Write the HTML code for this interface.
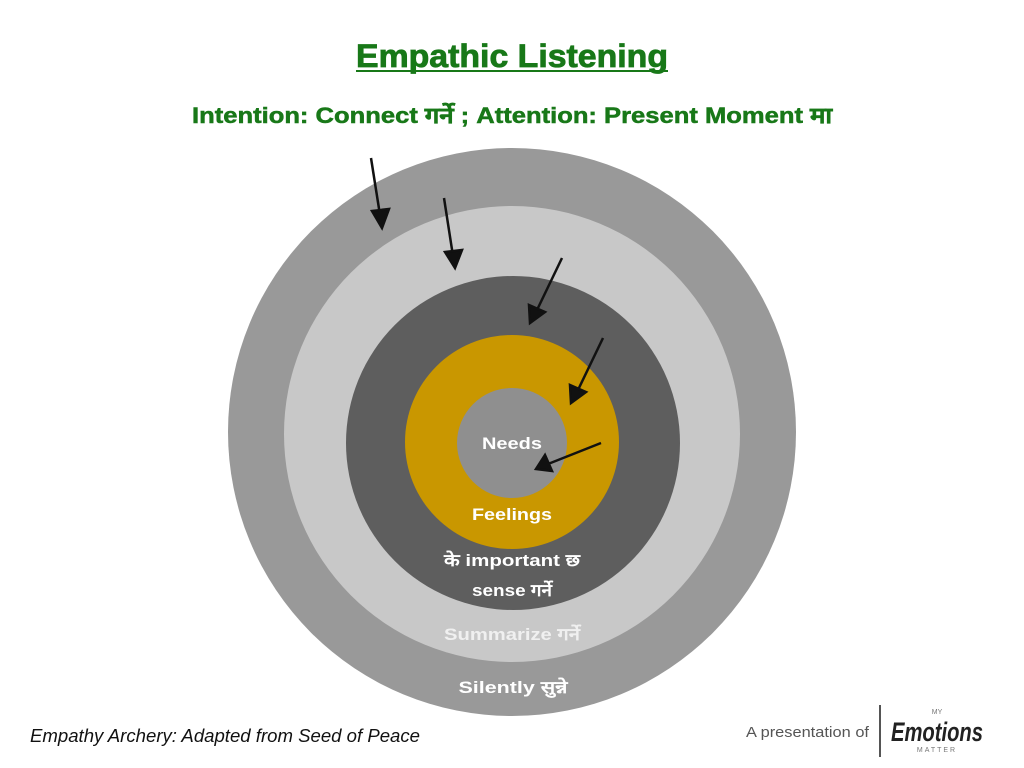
<!DOCTYPE html>
<html><head><meta charset="utf-8"><style>
html,body{margin:0;padding:0;background:#fff;width:1024px;height:768px;overflow:hidden}
svg{display:block}
text{font-family:"Liberation Sans","DejaVu Sans",sans-serif}
</style></head><body>
<svg width="1024" height="768" viewBox="0 0 1024 768" xmlns="http://www.w3.org/2000/svg">
<rect width="1024" height="768" fill="#fff"/>
<text x="512" y="67" text-anchor="middle" font-size="32" font-weight="bold" fill="#187818" stroke="#187818" stroke-width="0.8" textLength="312" lengthAdjust="spacingAndGlyphs">Empathic Listening</text>
<rect x="356" y="70" width="312" height="2" fill="#187818"/>
<text x="512" y="123" text-anchor="middle" font-size="22" font-weight="bold" fill="#187818" stroke="#187818" stroke-width="0.5" textLength="640" lengthAdjust="spacingAndGlyphs">Intention: Connect गर्ने ; Attention: Present Moment मा</text>

<circle cx="512" cy="432" r="284" fill="#999999"/>
<circle cx="512" cy="434" r="228" fill="#c8c8c8"/>
<circle cx="513" cy="443" r="167" fill="#5e5e5e"/>
<circle cx="512" cy="442" r="107" fill="#c99700"/>
<circle cx="512" cy="443" r="55" fill="#8f8f8f"/>

<g fill="#fff" font-weight="bold" font-size="17" text-anchor="middle" lengthAdjust="spacingAndGlyphs">
<text x="512" y="449" textLength="60" lengthAdjust="spacingAndGlyphs">Needs</text>
<text x="512" y="520" textLength="80" lengthAdjust="spacingAndGlyphs">Feelings</text>
<text x="512" y="566" textLength="136" lengthAdjust="spacingAndGlyphs">के important छ</text>
<text x="512" y="596" textLength="80" lengthAdjust="spacingAndGlyphs">sense गर्ने</text>
<text x="512" y="640" fill="#f0f0f0" textLength="136" lengthAdjust="spacingAndGlyphs">Summarize गर्ने</text>
<text x="513" y="693" textLength="109" lengthAdjust="spacingAndGlyphs">Silently सुन्ने</text>
</g>

<g stroke="#111" stroke-width="2.5" fill="#111">
<line x1="371" y1="158" x2="380" y2="215"/><polygon points="372,211 389,209 382,228"/>
<line x1="444" y1="198" x2="453" y2="256"/><polygon points="445,252 462,250 455,268"/>
<line x1="562" y1="258" x2="537" y2="310"/><polygon points="529,305 545,312 530,323"/>
<line x1="603" y1="338" x2="578" y2="390"/><polygon points="570,385 586,392 571,403"/>
<line x1="601" y1="443" x2="548" y2="464"/><polygon points="545,455 552,471 536,469"/>
</g>

<text x="30" y="742" font-size="18" font-style="italic" fill="#111" textLength="390" lengthAdjust="spacingAndGlyphs">Empathy Archery: Adapted from Seed of Peace</text>
<text x="746" y="737" font-size="15" fill="#555" textLength="123" lengthAdjust="spacingAndGlyphs">A presentation of</text>
<rect x="879" y="705" width="2" height="52" fill="#555"/>
<text x="937" y="714" font-size="7" fill="#777" text-anchor="middle">MY</text>
<text x="937" y="741" font-size="27" font-style="italic" font-weight="bold" fill="#222" text-anchor="middle" font-family="Liberation Serif,serif" textLength="92" lengthAdjust="spacingAndGlyphs">Emotions</text>
<text x="937" y="752" font-size="7" fill="#777" text-anchor="middle" letter-spacing="2">MATTER</text>
</svg>
</body></html>
